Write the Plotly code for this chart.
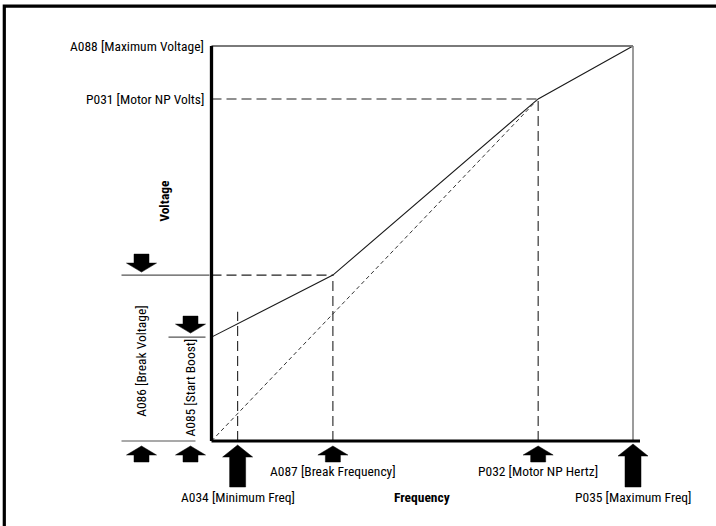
import plotly.graph_objects as go

# ---- data (arbitrary % units) ----
freq_labels = ["A034 [Minimum Freq]", "A087 [Break Frequency]", "P032 [Motor NP Hertz]", "P035 [Maximum Freq]"]
freq_values = [6.2, 28.8, 77.5, 100.0]          # min, break, motor NP, max
volt_labels = ["A085 [Start Boost]", "A086 [Break Voltage]", "P031 [Motor NP Volts]", "A088 [Maximum Voltage]"]
volt_values = [26.3, 42.0, 86.6, 100.0]         # boost, break, motor NP, max
min_freq_marker_top = 32.7
axis_titles = ["Frequency", "Voltage"]

f_min, f_break, f_np, f_max = freq_values
v_boost, v_break, v_np, v_max = volt_values

# ---- layout geometry (pixels) ----
W, H = 716, 526
ORIGIN_X, MAXF_X = 211.5, 633.0
ORIGIN_Y, MAXV_Y = 441.0, 46.0
sx = (MAXF_X - ORIGIN_X) / f_max
sy = (ORIGIN_Y - MAXV_Y) / v_max
x_range = [-ORIGIN_X / sx, (W - ORIGIN_X) / sx]
y_range = [-(H - ORIGIN_Y) / sy, ORIGIN_Y / sy]
x_axis_end = f_max + 7 / sx

FONT = "Liberation Sans Narrow, Arial Narrow, Roboto Condensed, Liberation Sans, sans-serif"
TXT = "#000"
FS = 13.5

fig = go.Figure()

# V/Hz curve
fig.add_trace(go.Scatter(x=[0, f_break, f_np, f_max], y=[v_boost, v_break, v_np, v_max],
                         mode="lines", line=dict(color="#1a1a1a", width=1.1), hoverinfo="skip"))
# linear reference (fine dashes)
fig.add_trace(go.Scatter(x=[0, f_np], y=[0, v_np], mode="lines",
                         line=dict(color="#333", width=1, dash="4px,3px"), hoverinfo="skip"))

shapes = []
LD = "10px,5px"
def line(x0, y0, x1, y1, color="#222", width=1.1, dash=None):
    shapes.append(dict(type="line", x0=x0, y0=y0, x1=x1, y1=y1, xref="x", yref="y",
                       line=dict(color=color, width=width, dash=dash), layer="above"))

# top and right limits
line(0, v_max, f_max, v_max, color="#7a7a7a", width=2)
line(f_max, 0, f_max, v_max, color="#7a7a7a", width=1.5)
# dashed reference lines
line(0, v_np, f_np, v_np, dash=LD)
line(f_np, 0, f_np, v_np, dash=LD)
line(0, v_break, f_break, v_break, dash=LD)
line(f_break, 0, f_break, v_break, dash=LD)
line(f_min, 0, f_min, min_freq_marker_top, dash=LD)
# axes
line(0, 0, x_axis_end, 0, color="black", width=3)
line(0, 0, 0, v_max, color="black", width=3.3)

# left-side bracket lines (pixel offsets from the voltage axis)
def hline_px(y, px0, px1, color="#555", width=1.1):
    shapes.append(dict(type="line", xref="x", yref="y", xsizemode="pixel", xanchor=0,
                       x0=px0, x1=px1, y0=y, y1=y, line=dict(color=color, width=width)))
hline_px(v_break, -90, -2)
hline_px(v_boost, -43, -6)
hline_px(0, -90, -16)

# arrows (pixel paths)
def arrow(xanchor, yanchor, dx, tip, length, direction, head_len=9, head_hw=15, shaft_hw=7.5):
    s = 1 if direction == "up" else -1
    hb = tip - s * head_len
    bt = tip - s * length
    pts = [(dx, tip), (dx + head_hw, hb), (dx + shaft_hw, hb), (dx + shaft_hw, bt),
           (dx - shaft_hw, bt), (dx - shaft_hw, hb), (dx - head_hw, hb)]
    path = "M " + " L ".join(f"{px},{py}" for px, py in pts) + " Z"
    shapes.append(dict(type="path", path=path, xref="x", yref="y",
                       xsizemode="pixel", ysizemode="pixel", xanchor=xanchor, yanchor=yanchor,
                       fillcolor="black", line=dict(color="black", width=0.5)))

# below the frequency axis
arrow(0, 0, -70, -5, 16, "up")
arrow(0, 0, -21, -5, 16, "up")
arrow(f_min, 0, 0, -4, 42, "up", head_len=12, head_hw=15, shaft_hw=8)
arrow(f_break, 0, 0, -5, 16, "up")
arrow(f_np, 0, 0, -5, 16, "up")
arrow(f_max, 0, 0, -3, 43, "up", head_len=12, head_hw=15, shaft_hw=8)
# above the voltage brackets
arrow(0, v_break, -70, 3, 18, "down")
arrow(0, v_boost, -21, 4, 17, "down")

# outer frame
shapes.append(dict(type="rect", xref="paper", yref="paper", x0=4.3 / W, y0=-0.1, x1=1.1, y1=1 - 6.2 / H,
                   line=dict(color="black", width=3.2), fillcolor="rgba(0,0,0,0)", layer="below"))

ann = []
def text(t, x, y, xshift=0, yshift=0, angle=0, bold=False, xanchor="center"):
    ann.append(dict(text=f"<b>{t}</b>" if bold else t, x=x, y=y, xref="x", yref="y",
                    xshift=xshift, yshift=yshift, showarrow=False, textangle=angle,
                    xanchor=xanchor, yanchor="middle", font=dict(family=FONT, size=FS, color=TXT)))

# frequency labels, staggered in two rows
text(freq_labels[0], f_min, 0, yshift=-56)
text(freq_labels[1], f_break, 0, yshift=-30)
text(freq_labels[2], f_np, 0, yshift=-30)
text(freq_labels[3], f_max, 0, yshift=-56)
text(axis_titles[0], f_max / 2, 0, yshift=-56, bold=True)

# voltage labels
text(volt_labels[3], 0, v_max, xshift=-6, xanchor="right")
text(volt_labels[2], 0, v_np, xshift=-6, xanchor="right")
text(volt_labels[1], 0, v_break * 0.48, xshift=-70, angle=-90)
text(volt_labels[0], 0, v_boost * 0.51, xshift=-21, angle=-90)
text(axis_titles[1], 0, 60.8, xshift=-47.5, angle=-90, bold=True)

fig.update_layout(
    width=W, height=H, margin=dict(l=0, r=0, t=0, b=0, pad=0), autosize=False,
    paper_bgcolor="white", plot_bgcolor="white", showlegend=False,
    shapes=shapes, annotations=ann,
    xaxis=dict(range=x_range, visible=False, fixedrange=True),
    yaxis=dict(range=y_range, visible=False, fixedrange=True),
)
fig.write_html("out.html", config={"displayModeBar": False, "staticPlot": True},
               post_script="document.body.style.margin='0';")
